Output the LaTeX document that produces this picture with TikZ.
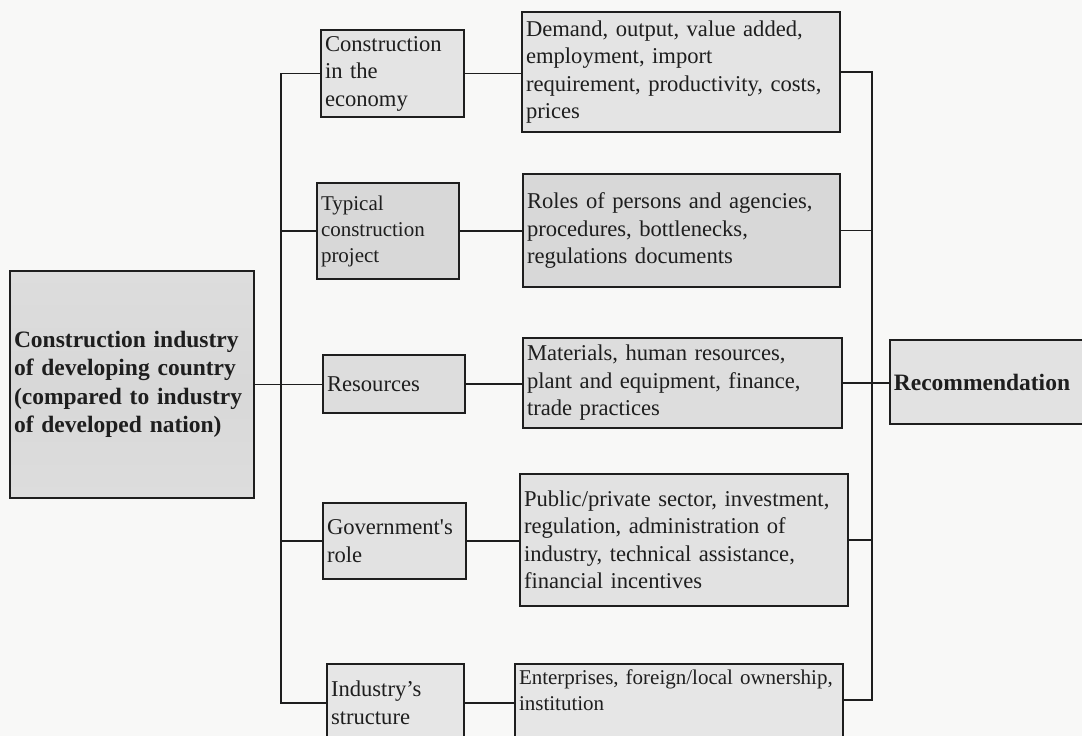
\documentclass[tikz,border=0pt]{standalone}
\usepackage{fontspec}
\setmainfont{Liberation Serif}
\newfontfamily\rawserif{Liberation Serif}
\definecolor{bg}{HTML}{F8F8F7}
\definecolor{fa}{HTML}{E4E4E4}
\definecolor{fb}{HTML}{D8D8D8}
\definecolor{fc}{HTML}{DDDDDD}
\definecolor{fd}{HTML}{E2E2E2}
\definecolor{fe}{HTML}{E6E6E6}
\definecolor{ink}{HTML}{1E1E1E}
\begin{document}
\begin{tikzpicture}[x=1pt,y=-1pt,
  box/.style={draw=ink, line width=1.7pt, inner xsep=4pt, inner ysep=2pt,
    align=left, font=\fontsize{22.6}{27.5}\selectfont, text=ink},
  small/.style={font=\fontsize{21}{26}\selectfont},
  bold/.style={font=\fontsize{23.5}{28.5}\selectfont\bfseries},
  link/.style={draw=ink, line width=1.6pt}]
\useasboundingbox (0,0) rectangle (1082,736);
\fill[bg] (0,0) rectangle (1082,736);
\clip (0,0) rectangle (1082,736);

% left main box
\node[box, bold, top color=fc, bottom color=fc, middle color=fb,
  minimum width=244pt, minimum height=227pt, text width=236pt] (main) at (132,384.5)
  {Construction industry\\of developing country\\(compared to industry\\of developed nation)};

% middle column
\node[box, fill=fa, minimum width=143pt, minimum height=87pt, text width=135pt]
  (econ) at (392.5,73.5) {Construction\\in the\\economy};
\node[box, small, fill=fb, minimum width=142pt, minimum height=96pt, text width=134pt]
  (proj) at (388,231) {Typical\\construction\\project};
\node[box, fill=fc, minimum width=142pt, minimum height=58pt, text width=134pt]
  (res) at (394,384) {Resources};
\node[box, fill=fd, minimum width=143pt, minimum height=76pt, text width=135pt]
  (gov) at (394.5,541) {Government{\rawserif '}s\\role};
\node[box, fill=fe, minimum width=137pt, minimum height=78pt, text width=129pt]
  (ind) at (395.5,703) {Industry’s\\structure};

% right column
\node[box, fill=fa, minimum width=318pt, minimum height=120pt, text width=310pt]
  (demand) at (681,72) {Demand, output, value added,\\employment, import\\requirement, productivity, costs,\\prices};
\node[box, fill=fb, minimum width=317pt, minimum height=113pt, text width=309pt]
  (roles) at (681.5,230.5) {Roles of persons and agencies,\\procedures, bottlenecks,\\regulations documents};
\node[box, fill=fc, minimum width=319pt, minimum height=90pt, text width=311pt]
  (mat) at (682.5,383) {Materials, human resources,\\plant and equipment, finance,\\trade practices};
\node[box, fill=fd, minimum width=328pt, minimum height=132pt, text width=320pt]
  (pub) at (684,540) {Public/private sector, investment,\\regulation, administration of\\industry, technical assistance,\\financial incentives};
\node[box, small, fill=fe, minimum width=328pt, minimum height=78pt, text width=320pt]
  (ent) at (679,703) {Enterprises, foreign/local ownership,\\institution\\\mbox{}};

% recommendation
\node[box, bold, fill=fd, anchor=west, minimum width=211pt, minimum height=84pt, text width=203pt]
  (rec) at (889,382) {Recommendation};

% left spine
\coordinate (lt) at (281,73.5);
\coordinate (lb) at (281,703);
\draw[link] (econ.west) -- (lt) -- (lb) -- (ind.west);
\draw[link] (proj.west) -- (proj.west -| lt);
\draw[link] (gov.west) -- (gov.west -| lt);
\draw[link] (main.east) -- (main.east -| res.west);

% middle to right
\draw[link] (econ.east) -- (econ.east -| demand.west);
\draw[link] (proj.east) -- (proj.east -| roles.west);
\draw[link] (res.east) -- (res.east -| mat.west);
\draw[link] (gov.east) -- (gov.east -| pub.west);
\draw[link] (ind.east) -- (ind.east -| ent.west);

% right spine
\coordinate (rt) at (872,72);
\coordinate (rb) at (872,700);
\draw[link] (demand.east) -- (rt) -- (rb) -- (rb -| ent.east);
\draw[link] (roles.east) -- (roles.east -| rt);
\draw[link] (pub.east) -- (pub.east -| rt);
\draw[link] (mat.east) -- (mat.east -| rec.west);
\end{tikzpicture}
\end{document}
